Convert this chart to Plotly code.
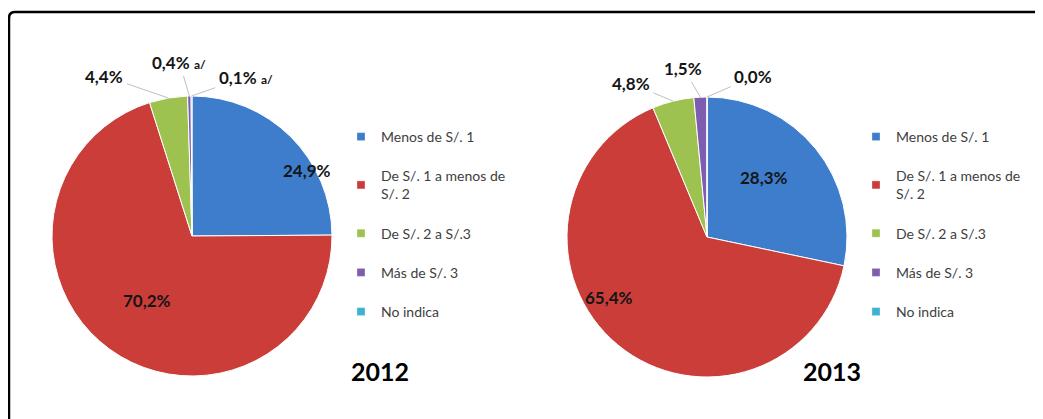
import math
import plotly.graph_objects as go

# ---- data ----
categories = ["Menos de S/. 1", "De S/. 1 a menos de<br>S/. 2", "De S/. 2 a S/.3",
              "Más de S/. 3", "No indica"]
values_2012 = [24.9, 70.2, 4.4, 0.4, 0.1]
values_2013 = [28.3, 65.4, 4.8, 1.5, 0.0]
labels_2012 = ["24,9%", "70,2%", "4,4%", "0,4%", "0,1%"]
labels_2013 = ["28,3%", "65,4%", "4,8%", "1,5%", "0,0%"]
notes_2012 = ["", "", "", "a/", "a/"]
notes_2013 = ["", "", "", "", ""]
years = ["2012", "2013"]
colors = ["#3E7DCC", "#CB3D39", "#9EC24F", "#7E5DAF", "#3DB2D1"]

W, H = 1043, 419
BODY = 8  # default page margin of the html body


def px(x):
    return (x - BODY) / W


def py(y):
    return 1 - (y - BODY) / H


# layout (screen pixels)
pie_boxes = [(52, 332, 96, 376), (567, 847, 97, 377)]
legend_x = [341, 856]
title_pos = [(349, 388), (863, 388)]
inside_pos = [
    [(281, 170), (121, 313)],
    [(790, 177), (609, 310)],
]
callout_offsets = [
    [None, None, (-64, -22), (-10, -34), (54, -19)],
    [None, None, (-42, -18), (-17, -29), (46, -20)],
]

LABEL_FONT = dict(family="Lato, Arial", size=17, color="#151515")

fig = go.Figure()
annotations = []
series = [(values_2012, labels_2012, notes_2012), (values_2013, labels_2013, notes_2013)]

for k, (vals, labs, notes) in enumerate(series):
    x0, x1, y0, y1 = pie_boxes[k]
    fig.add_trace(go.Pie(
        values=[max(v, 1e-9) for v in vals],
        labels=categories,
        textinfo="none",
        marker=dict(colors=colors, line=dict(color="white", width=1)),
        sort=False,
        direction="clockwise",
        rotation=0,
        showlegend=False,
        hoverinfo="label+percent",
        domain=dict(x=[px(x0), px(x1)], y=[py(y1), py(y0)]),
    ))
    cx, cy, r = (x0 + x1) / 2, (y0 + y1) / 2, (x1 - x0) / 2
    total = sum(vals)
    cum = 0
    for i, v in enumerate(vals):
        mid = (cum + v / 2) / total
        cum += v
        if callout_offsets[k][i] is None:
            lx, ly = inside_pos[k][i]
            annotations.append(dict(
                x=px(lx), y=py(ly), xref="paper", yref="paper",
                text="<b>%s</b>" % labs[i], showarrow=False, font=LABEL_FONT,
            ))
            continue
        ang = mid * 2 * math.pi
        tx = cx + r * math.sin(ang)
        ty = cy - r * math.cos(ang)
        ax, ay = callout_offsets[k][i]
        txt = "<b>%s</b>" % labs[i]
        if notes[i]:
            txt += " <b><span style='font-size:12px'>%s</span></b>" % notes[i]
        annotations.append(dict(
            x=px(tx), y=py(ty), xref="paper", yref="paper",
            text=txt, showarrow=True, arrowhead=0, arrowwidth=1, arrowcolor="#BFBFBF",
            ax=ax, ay=ay, standoff=0, startstandoff=2, font=LABEL_FONT,
        ))
    annotations.append(dict(
        x=px(title_pos[k][0]), y=py(title_pos[k][1]), xref="paper", yref="paper",
        text="<b>%s</b>" % years[k], showarrow=False,
        font=dict(family="Lato, Arial", size=25, color="#000"),
    ))
    leg = "legend" if k == 0 else "legend2"
    for i, c in enumerate(categories):
        fig.add_trace(go.Scatter(
            x=[None], y=[None], mode="markers",
            marker=dict(symbol="square", size=8, color=colors[i],
                        line=dict(color="rgba(255,255,255,0.6)", width=0.5)),
            name=c, legend=leg, legendgroup="g%d_%d" % (k, i), showlegend=True,
        ))

legend_common = dict(
    xanchor="left", yanchor="top", y=py(121),
    traceorder="grouped", tracegroupgap=18,
    font=dict(family="Lato, Arial", size=14, color="#404040"),
    bgcolor="rgba(0,0,0,0)", itemclick=False, itemdoubleclick=False,
)

frame_path = "M %f %f L %f %f Q %f %f %f %f L %f %f" % (
    px(9), py(440), px(9), py(18), px(9), py(12), px(15), py(12), px(1060), py(12))

fig.update_layout(
    width=W, height=H,
    margin=dict(l=0, r=0, t=0, b=0),
    paper_bgcolor="white", plot_bgcolor="white",
    xaxis=dict(visible=False), yaxis=dict(visible=False),
    legend=dict(x=px(legend_x[0]), **legend_common),
    legend2=dict(x=px(legend_x[1]), **legend_common),
    annotations=annotations,
    shapes=[dict(type="path", path=frame_path, xref="paper", yref="paper",
                 line=dict(color="black", width=2.5))],
)

fig.write_html("out.html")
